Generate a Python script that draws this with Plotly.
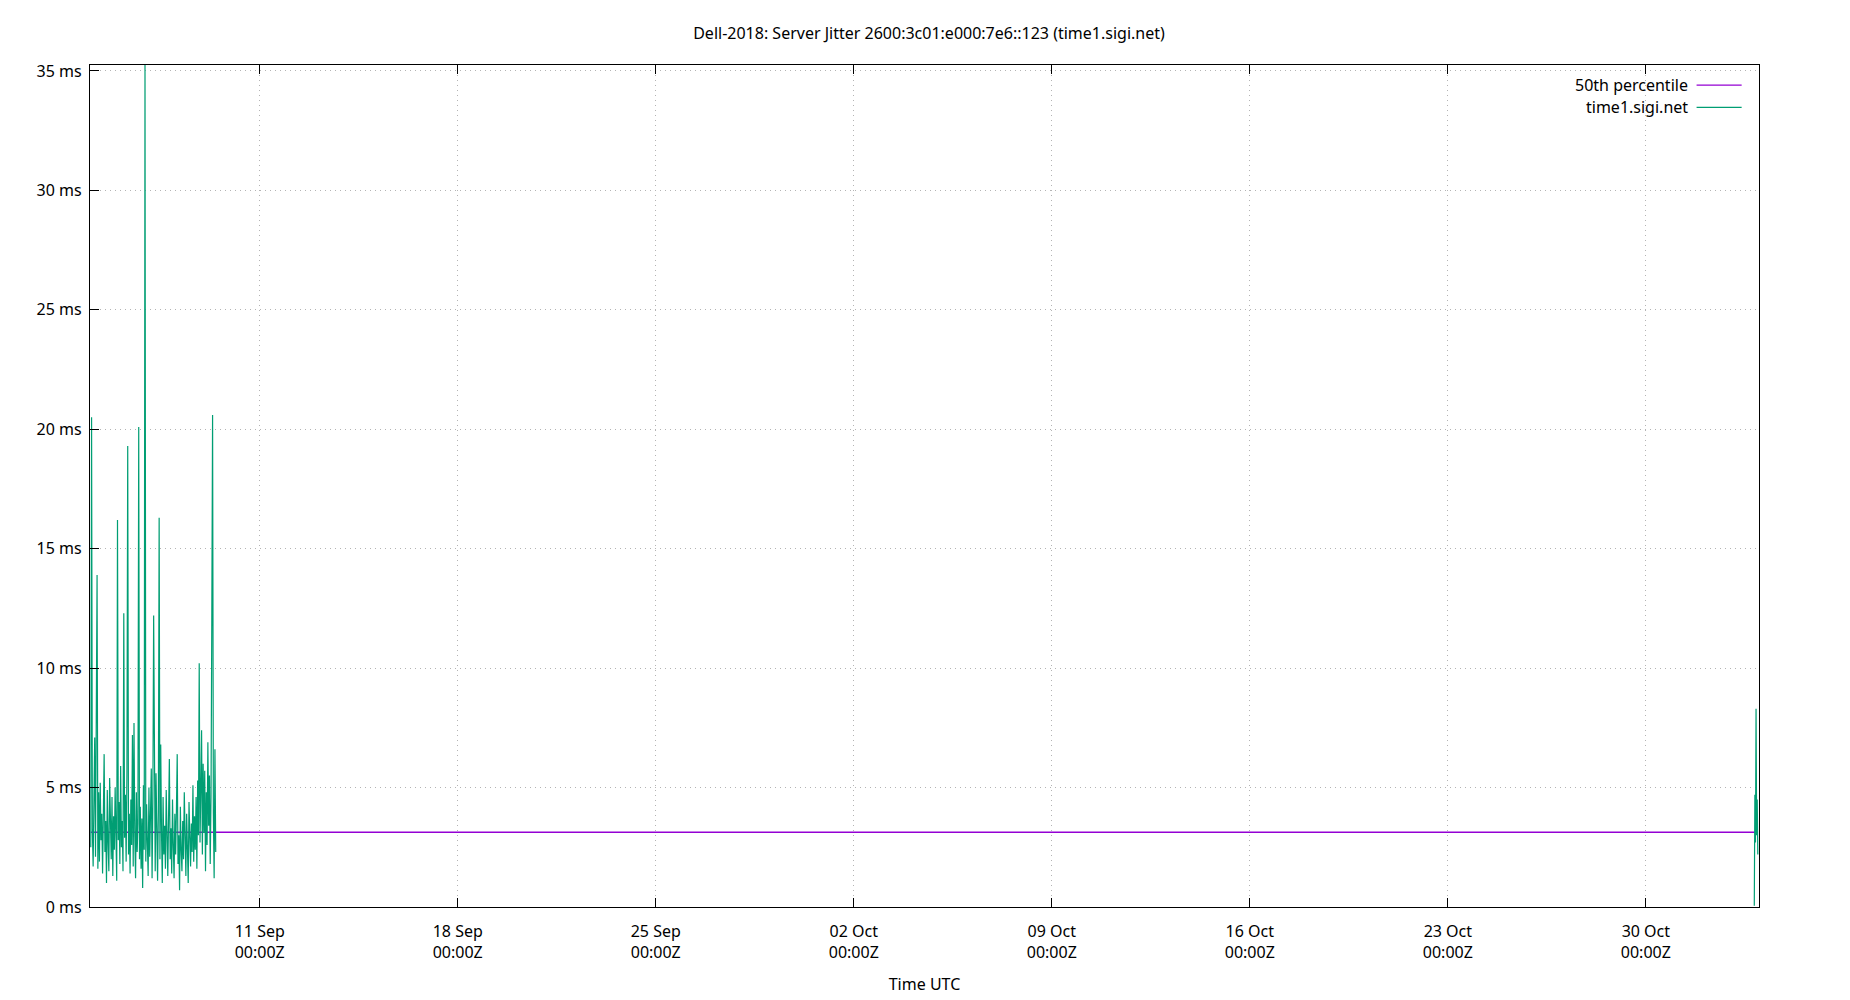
import pandas as pd
import plotly.graph_objects as go

# jitter samples (ms), first block: 5 Sep 00:40 onward, one sample every 40 min
jitter_start = '2025-09-05 00:40'
jitter_step = '40min'
jitter_ms = [
	2.5, 20.5, 3.2, 1.7, 4.5, 7.1, 2.1, 8.0, 13.9, 1.6,
	4.8, 1.9, 5.2, 2.8, 3.9, 1.4, 4.2, 6.4, 2.3, 3.6,
	1.0, 4.9, 2.7, 1.5, 5.4, 3.1, 2.0, 4.6, 1.3, 3.8,
	2.4, 5.0, 2.2, 1.1, 16.2, 2.8, 4.4, 1.8, 5.9, 2.5,
	3.6, 1.5, 12.3, 2.9, 4.7, 1.9, 5.6, 19.3, 2.2, 3.9,
	1.4, 4.5, 2.6, 7.2, 1.7, 7.7, 3.0, 1.2, 4.8, 2.3,
	3.5, 20.1, 2.0, 4.2, 1.6, 3.7, 0.8, 5.1, 2.4, 35.25,
	1.9, 4.3, 2.7, 1.3, 5.0, 2.1, 3.9, 5.8, 1.2, 4.4,
	12.2, 2.3, 1.5, 5.6, 2.9, 1.1, 4.0, 16.3, 2.0, 6.8,
	3.1, 1.0, 4.6, 2.2, 3.4, 1.6, 4.9, 2.5, 1.3, 3.8,
	6.2, 2.0, 3.3, 1.4, 4.5, 2.6, 1.2, 3.9, 2.2, 4.1,
	6.4, 1.8, 3.0, 0.7, 4.2, 2.4, 1.5, 3.6, 2.0, 4.8,
	2.6, 1.3, 3.9, 2.1, 1.0, 4.4, 2.9, 1.7, 3.5, 2.3,
	5.1, 1.9, 3.8, 2.4, 4.6, 1.6, 5.3, 3.0, 10.2, 2.7,
	4.9, 7.4, 2.2, 6.0, 3.1, 5.7, 1.5, 4.8, 2.6, 6.9,
	3.4, 5.5, 1.8, 4.6, 12.0, 20.6, 3.9, 1.2, 6.6, 2.3,
]

# second block at the very end of the window
tail_times = ['2025-11-02 20:00', '2025-11-02 20:30', '2025-11-02 21:00', '2025-11-02 21:30',
			  '2025-11-02 22:00', '2025-11-02 22:30', '2025-11-02 23:00']
tail_ms = [0.05, 4.7, 2.7, 8.3, 3.0, 4.5, 2.2]

p50_ms = 3.13

x_range = ['2025-09-05 00:00', '2025-11-03 00:00']
y_range = [0, 35.25]
y_ticks = [0, 5, 10, 15, 20, 25, 30, 35]
tick_dates = ['2025-09-11', '2025-09-18', '2025-09-25', '2025-10-02',
			  '2025-10-09', '2025-10-16', '2025-10-23', '2025-10-30']
tick_labels = ['11 Sep<br>00:00Z', '18 Sep<br>00:00Z', '25 Sep<br>00:00Z', '02 Oct<br>00:00Z',
			   '09 Oct<br>00:00Z', '16 Oct<br>00:00Z', '23 Oct<br>00:00Z', '30 Oct<br>00:00Z']

PURPLE = '#9400d3'
GREEN = '#009e73'
FONT = 'Noto Sans'


head_times = pd.date_range(jitter_start, periods=len(jitter_ms), freq=jitter_step)
x_all = list(head_times) + [None] + list(pd.to_datetime(tail_times))
y_all = jitter_ms + [None] + tail_ms

p50_trace = go.Scatter(
	x=[head_times[0], pd.to_datetime(tail_times[-1])],
	y=[p50_ms, p50_ms],
	mode='lines',
	line=dict(color=PURPLE, width=1.3),
	name='50th percentile',
)

jitter_trace = go.Scatter(
	x=x_all, y=y_all,
	mode='lines',
	line=dict(color=GREEN, width=1.2),
	connectgaps=False,
	name='time1.sigi.net',
)

fig = go.Figure(data=[p50_trace, jitter_trace])

axis_common = dict(
	showline=True, linecolor='black', linewidth=1.2,
	ticks='inside', ticklen=9, tickwidth=1.2, tickcolor='black',
	showgrid=True, gridcolor='#b4b4b4', griddash='1px,4px', gridwidth=1,
	zeroline=False, automargin=False,
	tickfont=dict(family=FONT, size=16, color='black'),
)

fig.update_xaxes(
	**axis_common,
	mirror='ticks',
	type='date',
	range=x_range,
	tickmode='array',
	tickvals=tick_dates,
	ticktext=tick_labels,
	ticklabelstandoff=10,
	title=dict(text='Time UTC', font=dict(family=FONT, size=16, color='black'), standoff=16),
)
fig.update_yaxes(
	**axis_common,
	mirror=True,
	range=y_range,
	tickmode='array',
	tickvals=y_ticks,
	ticktext=[f'{v} ms' for v in y_ticks],
	ticklabelstandoff=4,
)

# gnuplot style key: label on the left, sample line on the right
legend_rows = [('50th percentile', PURPLE, 0.9762), ('time1.sigi.net', GREEN, 0.9497)]
for label, color, ypos in legend_rows:
	fig.add_annotation(
		x=0.9588, y=ypos, xref='paper', yref='paper',
		xanchor='right', yanchor='middle',
		text=label, showarrow=False,
		font=dict(family=FONT, size=16, color='black'),
	)
	fig.add_shape(
		type='line', xref='paper', yref='paper',
		x0=0.9626, x1=0.9896, y0=ypos, y1=ypos,
		line=dict(color=color, width=1.3),
	)

# page body adds 8px, so the figure is 8px smaller and margins shifted
fig.update_layout(
	width=1842, height=992,
	showlegend=False,
	title=dict(text='Dell-2018: Server Jitter 2600:3c01:e000:7e6::123 (time1.sigi.net)',
			   x=0.5, xanchor='center', y=0.9748, yanchor='middle',
			   font=dict(family=FONT, size=16, color='black')),
	margin=dict(l=82, r=91, t=57, b=93),
	plot_bgcolor='white',
	paper_bgcolor='white',
	font=dict(family=FONT, size=16, color='black'),
)

fig.write_html('out.html')
